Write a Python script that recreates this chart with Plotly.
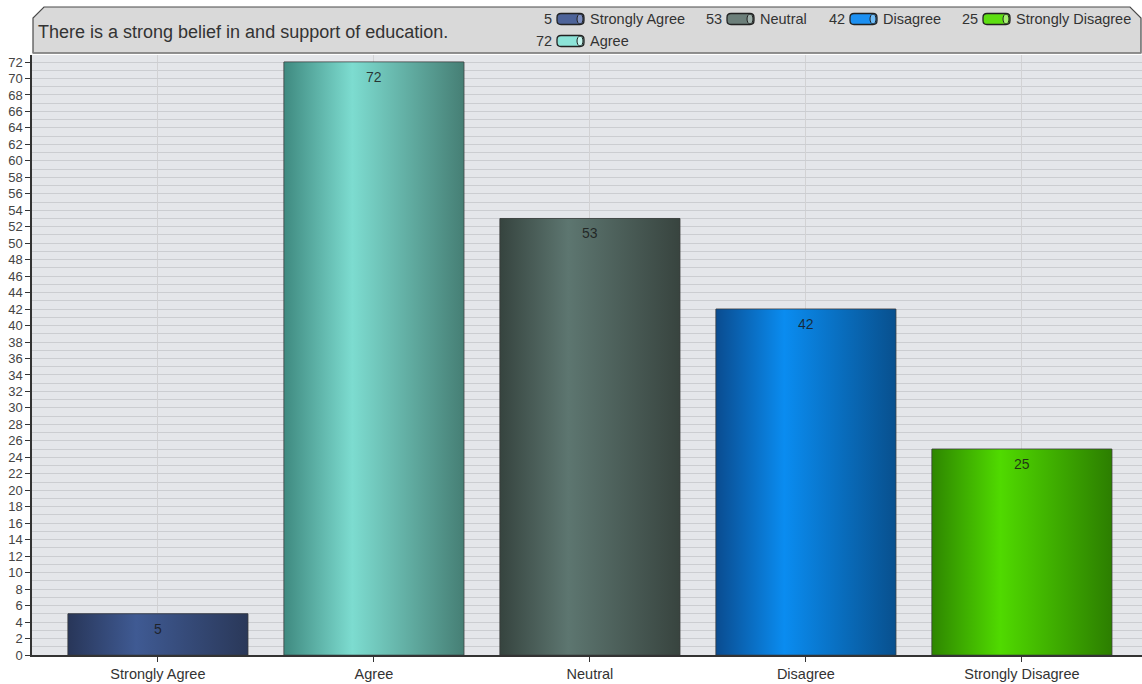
import plotly.graph_objects as go

# ---------------- data ----------------
categories = ["Strongly Agree", "Agree", "Neutral", "Disagree", "Strongly Disagree"]
values = [5, 72, 53, 42, 25]
title_text = "There is a strong belief in and support of education."
y_tick_values = list(range(0, 73, 2))

# ---------------- styles ----------------
edge_left = ["#283659", "#3f8a80", "#36443f", "#0a4c90", "#2e8600"]
centre = ["#3f5a93", "#7ddcd0", "#5d7670", "#0a8cf0", "#50da00"]
edge_right = ["#2a3859", "#467f75", "#38443f", "#08508e", "#2c7e00"]
legend_colors = ["#4d6399", "#8ce3d8", "#6c7f7a", "#1c90f2", "#5ede12"]
legend_caps = ["#7d8fc0", "#c4f3ec", "#9eb0ab", "#70bdf8", "#a4f070"]

FONT = "Liberation Sans, Arial, sans-serif"
W, H = 1142, 684
ML, MR, MT, MB = 32, 0, 55, 29
PW, PH = W - ML - MR, H - MT - MB
BAR_W = 0.833
X_RANGE = [-0.583, 4.556]
Y_MAX = 72.85


def px(x):
    return (x - ML) / PW


def py(y):
    return (H - MB - y) / PH


fig = go.Figure()
xs = list(range(len(categories)))

# base bars (real bar marks)
for i, (c, v) in enumerate(zip(categories, values)):
    fig.add_trace(go.Bar(
        x=[i], y=[v], width=BAR_W, name=c,
        marker=dict(color=centre[i], line=dict(color="rgba(50,50,50,0.55)", width=1)),
        showlegend=False, hoverinfo="skip",
    ))

# gradient overlay built from the same values
for i, v in enumerate(values):
    x0, x1 = i - BAR_W / 2, i + BAR_W / 2
    fig.add_trace(go.Scatter(
        x=[x0, x0, x1, x1, x0], y=[0, v, v, 0, 0],
        mode="lines", fill="toself",
        line=dict(color="rgba(55,55,55,0.55)", width=1),
        fillgradient=dict(type="horizontal",
                          colorscale=[[0, edge_left[i]], [0.38, centre[i]], [1, edge_right[i]]]),
        showlegend=False, hoverinfo="skip",
    ))

annotations = []
# value labels
for i, v in enumerate(values):
    annotations.append(dict(x=i, y=v, xref="x", yref="y", text=str(v), showarrow=False,
                            yanchor="top", yshift=-5,
                            font=dict(family=FONT, size=14, color="rgba(25,25,25,0.85)")))

shapes = []
# header box
hx0, hx1, hy0, hy1, ch = 33, 1141, 7, 53, 11
path = (f"M {px(hx0)},{py(hy1)} L {px(hx0)},{py(hy0 + ch)} L {px(hx0 + ch)},{py(hy0)} "
        f"L {px(hx1 - ch)},{py(hy0)} L {px(hx1)},{py(hy0 + ch)} L {px(hx1)},{py(hy1)} Z")
shapes.append(dict(type="path", xref="paper", yref="paper", path=path,
                   fillcolor="#d9d9d9", line=dict(color="#4a4a4a", width=1.2), layer="above"))
shapes.append(dict(type="line", xref="paper", yref="paper", x0=px(hx0), x1=px(hx1),
                   y0=py(hy1), y1=py(hy1), line=dict(color="#8a8a8a", width=1.5), layer="above"))

annotations.append(dict(xref="paper", yref="paper", x=px(36), y=py(32), xanchor="left", yanchor="middle",
                        text=title_text, showarrow=False,
                        font=dict(family=FONT, size=18, color="#333333")))

# legend (manual, built from data)
LEGEND_ORDER = [0, 2, 3, 4, 1]
LEGEND_ICON_X = [557, 727, 850, 983, 557]
LEGEND_ROW_Y = [19, 19, 19, 19, 41]
ICON_W, ICON_H, R = 27, 11, 4


def rounded_rect(x0, y0, x1, y1, r):
    return (f"M {px(x0 + r)},{py(y0)} L {px(x1 - r)},{py(y0)} Q {px(x1)},{py(y0)} {px(x1)},{py(y0 + r)} "
            f"L {px(x1)},{py(y1 - r)} Q {px(x1)},{py(y1)} {px(x1 - r)},{py(y1)} "
            f"L {px(x0 + r)},{py(y1)} Q {px(x0)},{py(y1)} {px(x0)},{py(y1 - r)} "
            f"L {px(x0)},{py(y0 + r)} Q {px(x0)},{py(y0)} {px(x0 + r)},{py(y0)} Z")


for k, idx in enumerate(LEGEND_ORDER):
    ix, cy = LEGEND_ICON_X[k], LEGEND_ROW_Y[k]
    y0, y1 = cy - ICON_H / 2, cy + ICON_H / 2
    shapes.append(dict(type="path", xref="paper", yref="paper",
                       path=rounded_rect(ix, y0, ix + ICON_W, y1, R),
                       fillcolor=legend_colors[idx], line=dict(color="#222222", width=1.3), layer="above"))
    shapes.append(dict(type="circle", xref="paper", yref="paper",
                       x0=px(ix + ICON_W - 7), x1=px(ix + ICON_W - 1), y0=py(y1 - 0.5), y1=py(y0 + 0.5),
                       fillcolor=legend_caps[idx], line=dict(color="#222222", width=1), layer="above"))
    annotations.append(dict(xref="paper", yref="paper", x=px(ix - 3), y=py(cy), xanchor="right",
                            yanchor="middle", text=str(values[idx]), showarrow=False,
                            font=dict(family=FONT, size=14.5, color="#333333")))
    annotations.append(dict(xref="paper", yref="paper", x=px(ix + ICON_W + 4), y=py(cy), xanchor="left",
                            yanchor="middle", text=categories[idx], showarrow=False,
                            font=dict(family=FONT, size=14.5, color="#333333")))

fig.update_layout(
    width=W, height=H,
    margin=dict(l=ML, r=MR, t=MT, b=MB, pad=0),
    paper_bgcolor="white", plot_bgcolor="#e4e6ea",
    barmode="overlay", showlegend=False,
    shapes=shapes, annotations=annotations,
    font=dict(family=FONT, size=13, color="#444444"),
    xaxis=dict(range=X_RANGE, tickmode="array", tickvals=xs, ticktext=categories,
               showgrid=True, gridcolor="#d2d2d4", gridwidth=1, zeroline=False,
               showline=True, linecolor="#333333", linewidth=1.5,
               ticks="outside", ticklen=5, tickcolor="#333333",
               tickfont=dict(family=FONT, size=14.5, color="#333333")),
    yaxis=dict(range=[0, Y_MAX], tickmode="array", tickvals=y_tick_values,
               showgrid=True, gridcolor="#cbcdd1", gridwidth=1, zeroline=False,
               minor=dict(dtick=1, showgrid=True, gridcolor="#cbcdd1", gridwidth=1),
               showline=True, linecolor="#333333", linewidth=1.5,
               ticks="outside", ticklen=5, tickcolor="#333333",
               tickfont=dict(family=FONT, size=13, color="#444444")),
)

fig.write_html("out.html", config={"displayModeBar": False},
               post_script="document.body.style.margin='0';")
